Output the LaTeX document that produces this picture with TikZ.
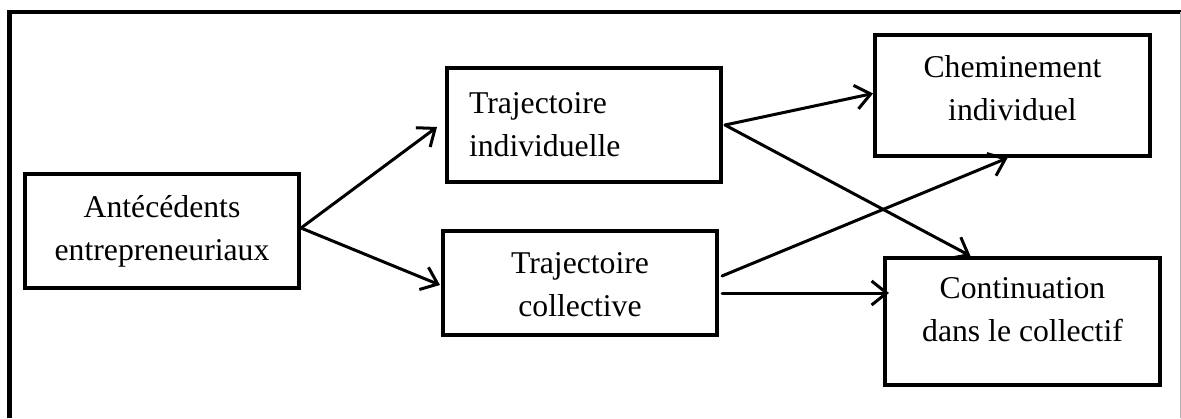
\documentclass[tikz,border=0pt]{standalone}
\usepackage{fontspec}
\setmainfont{Liberation Serif}
\usetikzlibrary{arrows.meta,calc}

\tikzset{
  box/.style={draw=black, line width=4pt, rectangle, inner sep=0pt,
    font=\fontsize{31.7}{43}\selectfont},
  link/.style={line width=3pt, line cap=round,
    -{Straight Barb[length=15pt, width=24pt, line width=3pt]}},
  frameline/.style={line width=4.5pt},
}

\begin{document}
\begin{tikzpicture}[x=1pt, y=-1pt]
  \useasboundingbox (0,0) rectangle (1181,418);

  % outer frame
  \draw[frameline] (9.5,418) -- (9.5,12) -- (1181,12);
  \draw[gray!60, line width=1pt] (1180,12) -- (1180,418);

  % boxes
  \node[box, minimum width=274, minimum height=114, align=center]
    (ante) at (162,231) {Antécédents\\entrepreneuriaux};
  \node[box, minimum width=274, minimum height=114, text width=230, align=left]
    (tind) at (584,125) {Trajectoire\\individuelle};
  \node[box, minimum width=274, minimum height=104]
    (tcol) at (580,283)
    {\begin{tabular}{@{}c@{}}Trajectoire\\collective\\[-6pt]\end{tabular}};
  \node[box, minimum width=275, minimum height=121]
    (chem) at (1012.5,95.5)
    {\begin{tabular}{@{}c@{}}Cheminement\\individuel\\[10pt]\end{tabular}};
  \node[box, minimum width=275, minimum height=127]
    (cont) at (1022.5,321.5)
    {\begin{tabular}{@{}c@{}}Continuation\\dans le collectif\\[20pt]\end{tabular}};

  % connectors
  \draw[link] ($(ante.east)+(0,-3)$) -- ($(tind.west)+(-8,2)$);
  \draw[link] ($(ante.east)+(0,-3)$) -- ($(tcol.west)+(-1,2)$);
  \draw[link] ($(tind.east)+(2,0)$) -- ($(chem.west)+(0,-2)$);
  \draw[link] ($(tind.east)+(2,0)$) -- ($(cont.north)+(-52,0)$);
  \draw[link] ($(tcol.east)+(3,-7)$) -- ($(chem.south)+(-5,0)$);
  \draw[link] ($(tcol.east)+(3,10)$) -- ($(cont.west)+(6,-28.5)$);
\end{tikzpicture}
\end{document}
